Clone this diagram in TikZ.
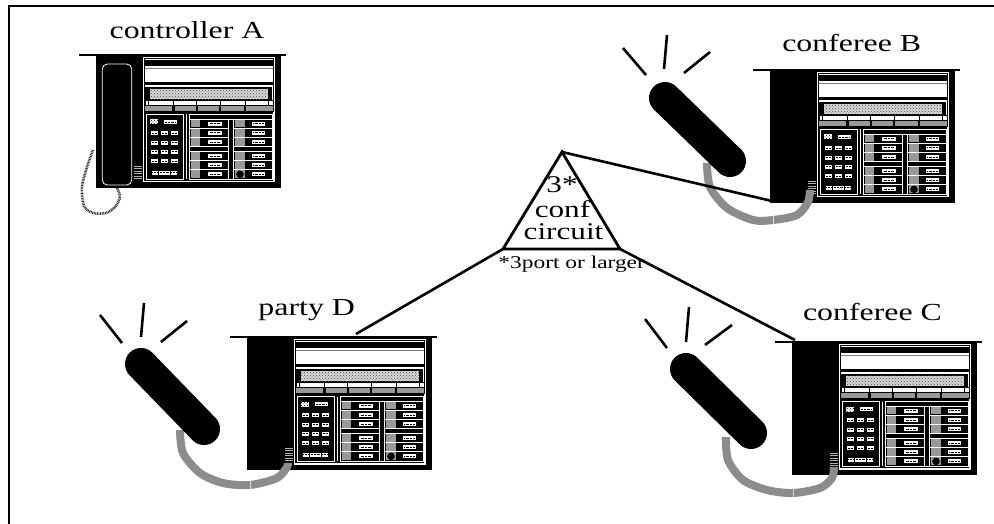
\documentclass[tikz,border=0pt]{standalone}
\usepackage{fontspec}
\setmainfont{Liberation Serif}
\newfontfamily\labelfont[FakeStretch=1.3]{Liberation Serif}
\usetikzlibrary{patterns}
\definecolor{cordgray}{gray}{0.55}
\definecolor{keygray}{gray}{0.6}

\tikzset{
  lbl/.style={font=\labelfont\fontsize{24.5}{26}\selectfont, inner sep=0pt, anchor=base},
  trilbl/.style={font=\labelfont\fontsize{24}{26}\selectfont, inner sep=0pt, anchor=base},
  note/.style={font=\labelfont\fontsize{18}{20}\selectfont, inner sep=0pt, anchor=base},
  conn/.style={line width=2.6pt},
  ringmark/.style={line width=2.6pt},
  cordline/.style={cordgray, line width=8pt},
  coilcord/.style={black!85, line width=2.6pt, dash pattern=on 0.8pt off 0.8pt},
  receiver/.style={line width=32pt, line cap=round},
  keylabel/.style={line width=0.6pt, dash pattern=on 0.8pt off 0.6pt},
  % desk telephone housing with its faceplate; origin = top-left corner of the housing
  deskset/.pic={
    \fill (0,0) rectangle (185,133);
    \draw[line width=1.3pt] (-17,0) -- (190,0);
    \foreach \k in {0,...,5}
      \draw[gray!60, line width=0.9pt] (38,111+2.5*\k) -- (46,111+2.5*\k);
    % faceplate, upper section
    \fill[white] (46.7,2) rectangle (179,127.5);
    \draw[line width=0.6pt] (48.5,3.6) rectangle (177.3,56);
    \fill (49,5) rectangle (177,10.7);
    \draw[gray, line width=0.6pt] (49,13.2) -- (177,13.2);
    \fill (49,27.3) rectangle (177,29.7);
    \fill (49,32.3) rectangle (176,45.7);
    \fill[gray!30] (54,33.8) rectangle (172,44.2);
    \fill[pattern=crosshatch dots, pattern color=black!75] (54,33.8) rectangle (172,44.2);
    \draw[line width=0.6pt] (49,45.7) rectangle (177,50.7);
    \foreach \u in {52.3,77.3,100.7,124,149,172.3}
      \draw[line width=1pt] (\u,45.7) -- (\u,50.7);
    \fill[keygray] (49,50.7) rectangle (177,55.7);
    \foreach \u in {77.3,100.7,124,149}
      \fill (\u-1.2,50.7) rectangle (\u+1.2,55.7);
    % faceplate, lower section
    \fill (48.4,55.7) rectangle (177.3,125.8);
    \begin{scope}[white, line width=0.7pt]
      \draw (50,59.5) rectangle (87,124);
      \draw (90.6,59.5) -- (90.6,124);
      \draw (93.6,59.5) rectangle (176,124);
      \draw (93.6,64) -- (176,64);
      \foreach \v in {73.2,82.4,91.6,96.6,105.6,114.6} {
        \draw (93.6,\v) -- (132.3,\v);
        \draw (137.3,\v) -- (176,\v);
      }
      \draw (132.3,64) -- (132.3,124);
      \draw (137.3,64) -- (137.3,124);
    \end{scope}
    % line keys
    \foreach \ya/\yb in {64/73.2, 73.2/82.4, 82.4/91.6, 96.6/105.6, 105.6/114.6, 114.6/124} {
      \fill[keygray] (95,\ya+0.8) rectangle (104,\yb-0.8);
      \fill[keygray] (139,\ya+0.8) rectangle (149,\yb-0.8);
      \fill[white] (112,{(\ya+\yb)/2-2}) rectangle (125.7,{(\ya+\yb)/2+2});
      \fill[white] (155.7,{(\ya+\yb)/2-2}) rectangle (169,{(\ya+\yb)/2+2});
      \draw[keylabel] (113.5,{(\ya+\yb)/2}) -- (124.2,{(\ya+\yb)/2});
      \draw[keylabel] (157.2,{(\ya+\yb)/2}) -- (167.5,{(\ya+\yb)/2});
    }
    \fill (144,119.3) circle (3.8);
    % dial pad
    \fill[white] (54,64.5) rectangle (62.3,69.5);
    \fill[pattern=crosshatch dots, pattern color=black] (54,64.5) rectangle (62.3,69.5);
    \fill[white] (68,65.3) rectangle (80.7,69);
    \draw[keylabel] (69,67.2) -- (79.7,67.2);
    \foreach \v in {78.3,87.7,96.7,106}
      \foreach \u in {58.3,68.3,78.3} {
        \fill[white] (\u-3.3,\v-2) rectangle (\u+3.3,\v+2);
        \draw[keylabel] (\u-2.6,\v) -- (\u+2.6,\v);
      }
    \foreach \xa/\xb in {55.7/62.3, 63.3/74, 74.7/81.3} {
      \fill[white] (\xa,115.7) rectangle (\xb,119.7);
      \draw[keylabel] (\xa+0.7,117.7) -- (\xb-0.7,117.7);
    }
    \coordinate (-hook) at (2,131);
    \coordinate (-corner) at (3,-2);
    \coordinate (-top) at (109,-3);
  },
  % handset resting in the cradle
  onhook/.pic={
    \draw[white, line width=0.8pt, rounded corners=5pt] (6.3,9) rectangle (35.7,130);
  }
}

\begin{document}
\begin{tikzpicture}[x=1pt, y=-1pt]
  \useasboundingbox (0,0) rectangle (994,524);
  \fill[white] (0,0) rectangle (994,524);
  \draw[line width=2.6pt] (9,524) -- (9,6) -- (994,6);

  % the four telephones
  \begin{scope}[shift={(96,55)}]
    \pic (A) {deskset};
    \pic {onhook};
  \end{scope}
  \begin{scope}[shift={(770,70)}, xscale=0.962, yscale=0.945]
    \pic (B) {deskset};
  \end{scope}
  \begin{scope}[shift={(792,342)}, scale=0.978]
    \pic (C) {deskset};
  \end{scope}
  \begin{scope}[shift={(247,337)}, scale=0.978]
    \pic (D) {deskset};
  \end{scope}

  % coiled cord of the idle set
  \draw[coilcord] plot[smooth] coordinates {(117,188) (120,197) (115,207) (106,213) (93,213) (84,206) (82,187) (87,167) (93,150)};

  % ringing sets: cord, lifted handset, ring marks
  \draw[cordline] plot[smooth] coordinates {(707,163) (710,187) (727,208) (753,220) (773,220) (797,215) (808,202) (810,190)};
  \draw[gray!30, line width=0.8pt] (773,216) -- (773,224);
  \draw[receiver] (665,98) -- (730,161);
  \draw[ringmark] (623,48) -- (646,75);
  \draw[ringmark] (667,35) -- (664,69);
  \draw[ringmark] (710,52) -- (684,73);

  \draw[cordline] plot[smooth] coordinates {(726,437) (728,460) (743,480) (767,490) (793,493) (820,488) (832,478) (834,467)};
  \draw[gray!30, line width=0.8pt] (793,489) -- (793,497);
  \draw[receiver] (686,369) -- (751,433);
  \draw[ringmark] (645,319) -- (667,348);
  \draw[ringmark] (689,307) -- (686,342);
  \draw[ringmark] (732,325) -- (705,345);

  \draw[cordline] plot[smooth] coordinates {(180,430) (183,453) (200,473) (223,483) (250,485) (277,478) (287,467) (288,463)};
  \draw[gray!30, line width=0.8pt] (250,481) -- (250,489);
  \draw[receiver] (141,364) -- (204,429);
  \draw[ringmark] (100,315) -- (122,343);
  \draw[ringmark] (144,303) -- (141,337);
  \draw[ringmark] (187,321) -- (161,342);

  % conference circuit
  \coordinate (apex) at (562,152);
  \coordinate (baseL) at (503,249);
  \coordinate (baseR) at (620,249);
  \draw[line width=2.8pt, line join=miter] (apex) -- (baseR) -- (baseL) -- cycle;

  \draw[conn] (apex) -- (B-hook);
  \draw[conn] (baseL) -- (D-top);
  \draw[conn] (baseR) -- (C-corner);

  % labels
  \node[lbl] (labA) at (187,38.3) {controller A};
  \node[lbl] (labB) at (851.7,51.7) {conferee B};
  \node[lbl] (labD) at (306.7,315) {party D};
  \node[lbl] (labC) at (872.5,320) {conferee C};
  \node[trilbl] (t1) at (562,192.7) {3*};
  \node[trilbl] (t2) at (562.5,217.3) {conf};
  \node[trilbl] (t3) at (563.5,240) {circuit};
  \node[note] (t4) at (571.7,268) {*3port or larger};
\end{tikzpicture}
\end{document}
